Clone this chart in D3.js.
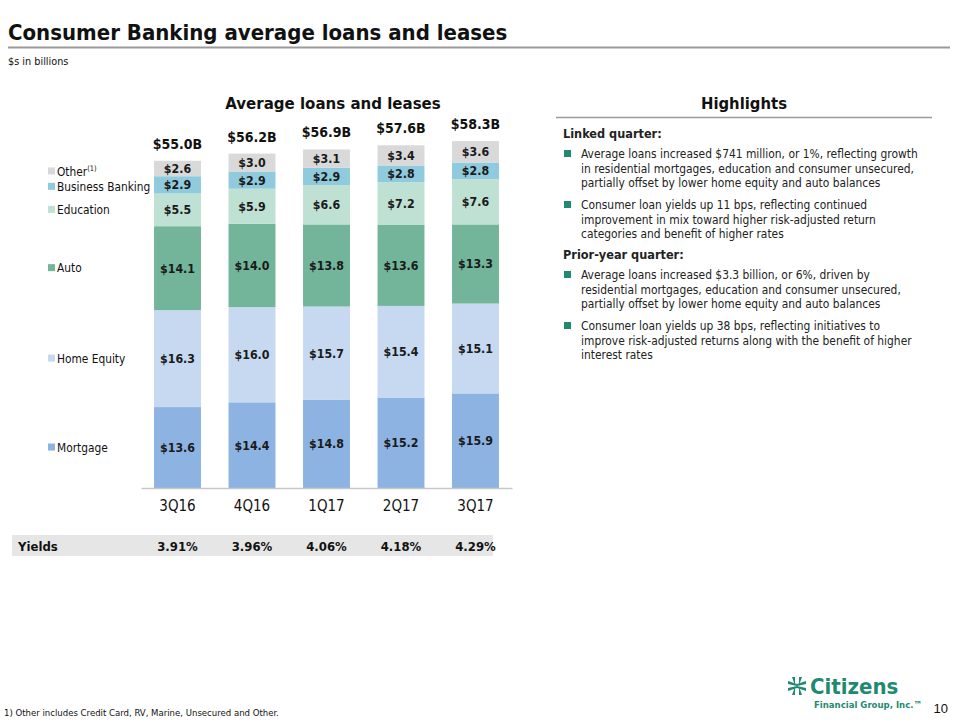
<!DOCTYPE html>
<html lang="en">
<head>
<meta charset="utf-8">
<title>Consumer Banking average loans and leases</title>
<style>
  body { margin: 0; background: #fff; }
  svg { font-family: "DejaVu Sans Condensed", "DejaVu Sans", sans-serif; font-stretch: condensed; }
  .seg-label { font-weight: bold; font-size: 12.3px; fill: #1a1a1a; }
  .total { font-weight: bold; font-size: 14px; fill: #111; }
  .legend text { font-size: 11.8px; fill: #111; }
  .hl text { font-size: 11.9px; fill: #222; }
</style>
<script src="https://d3js.org/d3.v7.min.js"></script>
</head>
<body>
<svg width="960" height="720"></svg>
<script>
// data
var quarters = ["3Q16", "4Q16", "1Q17", "2Q17", "3Q17"];
var series = ["Mortgage", "Home Equity", "Auto", "Education", "Business Banking", "Other"];
var mortgage = [13.6, 14.4, 14.8, 15.2, 15.9];
var homeEquity = [16.3, 16.0, 15.7, 15.4, 15.1];
var auto = [14.1, 14.0, 13.8, 13.6, 13.3];
var education = [5.5, 5.9, 6.6, 7.2, 7.6];
var businessBanking = [2.9, 2.9, 2.9, 2.8, 2.8];
var other = [2.6, 3.0, 3.1, 3.4, 3.6];
var totals = [55.0, 56.2, 56.9, 57.6, 58.3];
var yields = ["3.91%", "3.96%", "4.06%", "4.18%", "4.29%"];

var colors = ["#8db3e2", "#c6d9f1", "#72b59a", "#bfe1d3", "#8fcbdc", "#d9d9d9"];

var svg = d3.select("svg");

// header
svg.append("text").attr("x", 8).attr("y", 40)
    .style("font-size", "22px").style("font-weight", "bold").attr("fill", "#111")
    .text("Consumer Banking average loans and leases");
svg.append("line").attr("x1", 8).attr("x2", 950).attr("y1", 47.5).attr("y2", 47.5)
    .attr("stroke", "#9a9a9a").attr("stroke-width", 2);
svg.append("text").attr("x", 8).attr("y", 65)
    .style("font-size", "10.8px").attr("fill", "#111").text("$s in billions");

svg.append("text").attr("x", 333).attr("y", 109).attr("text-anchor", "middle")
    .style("font-size", "16.7px").style("font-weight", "bold").attr("fill", "#111")
    .text("Average loans and leases");

// scales
var x = d3.scaleBand().domain(quarters).range([141, 512])
    .paddingInner(0.37).paddingOuter(0.175);
var y = d3.scaleLinear().domain([0, 60]).range([488, 131]);

var rows = quarters.map(function(q, i) {
  return { q: q, Mortgage: mortgage[i], "Home Equity": homeEquity[i], Auto: auto[i],
    Education: education[i], "Business Banking": businessBanking[i], Other: other[i] };
});
var stacked = d3.stack().keys(series)(rows);

var layer = svg.append("g").selectAll("g")
  .data(stacked).enter().append("g")
    .attr("fill", function(d, i) { return colors[i]; });

layer.selectAll("rect")
  .data(function(d) { return d; })
  .enter().append("rect")
    .attr("x", function(d) { return x(d.data.q); })
    .attr("width", x.bandwidth())
    .attr("y", function(d) { return y(d[1]); })
    .attr("height", function(d) { return y(d[0]) - y(d[1]); });

layer.selectAll("text")
  .data(function(d) { return d.map(function(p) { p.key = d.key; return p; }); })
  .enter().append("text")
    .attr("class", "seg-label")
    .attr("x", function(d) { return x(d.data.q) + x.bandwidth() / 2; })
    .attr("y", function(d) { return (y(d[0]) + y(d[1])) / 2; })
    .attr("dy", "0.36em")
    .attr("text-anchor", "middle")
    .text(function(d) { return "$" + d.data[d.key].toFixed(1); });

// totals
svg.append("g").selectAll("text")
  .data(totals).enter().append("text")
    .attr("class", "total")
    .attr("x", function(d, i) { return x(quarters[i]) + x.bandwidth() / 2; })
    .attr("y", function(d) { return y(d) - 17; })
    .attr("dy", "0.36em")
    .attr("text-anchor", "middle")
    .text(function(d) { return "$" + d.toFixed(1) + "B"; });

// axis
var xAxis = svg.append("g").attr("transform", "translate(0,488)")
    .call(d3.axisBottom(x).tickSize(0).tickPadding(12));
xAxis.select(".domain").attr("stroke", "#c8c8c8").attr("stroke-width", 1.5);
xAxis.selectAll("text").style("font-size", "15px")
    .style("font-family", "DejaVu Sans Condensed, DejaVu Sans, sans-serif")
    .attr("fill", "#111");

// legend, aligned to first bar's segments
var first = stacked.map(function(s) { return (y(s[0][0]) + y(s[0][1])) / 2; });
first[5] += 3; first[4] += 2;
var legend = svg.append("g").attr("class", "legend").selectAll("g")
  .data(series).enter().append("g")
    .attr("transform", function(d, i) { return "translate(48," + first[i] + ")"; });
legend.append("rect").attr("x", 0).attr("y", -4).attr("width", 7).attr("height", 7)
    .attr("fill", function(d, i) { return colors[i]; });
legend.append("text").attr("x", 9).attr("dy", "0.36em")
    .text(function(d) { return d; })
  .filter(function(d) { return d === "Other"; })
  .append("tspan").attr("dy", "-5").style("font-size", "7.5px").text("(1)");

// yields row
svg.append("rect").attr("x", 12).attr("y", 535).attr("width", 481).attr("height", 21)
    .attr("fill", "#e6e6e6");
svg.append("text").attr("x", 18).attr("y", 546).attr("dy", "0.36em")
    .style("font-size", "13px").style("font-weight", "bold").attr("fill", "#111").text("Yields");
svg.append("g").selectAll("text")
  .data(yields).enter().append("text")
    .attr("x", function(d, i) { return x(quarters[i]) + x.bandwidth() / 2; })
    .attr("y", 546).attr("dy", "0.36em").attr("text-anchor", "middle")
    .style("font-size", "13px").style("font-weight", "bold").attr("fill", "#111")
    .text(function(d) { return d; });

// highlights
svg.append("text").attr("x", 744).attr("y", 109).attr("text-anchor", "middle")
    .style("font-size", "16.5px").style("font-weight", "bold").attr("fill", "#111")
    .text("Highlights");
svg.append("line").attr("x1", 556).attr("x2", 932).attr("y1", 117.5).attr("y2", 117.5)
    .attr("stroke", "#9a9a9a").attr("stroke-width", 1.5);

var hl = svg.append("g").attr("class", "hl");
var items = [
  { head: "Linked quarter:", y: 138 },
  { lines: ["Average loans increased $741 million, or 1%, reflecting growth",
            "in residential mortgages, education and consumer unsecured,",
            "partially offset by lower home equity and auto balances"], y: 158 },
  { lines: ["Consumer loan yields up 11 bps, reflecting continued",
            "improvement in mix toward higher risk-adjusted return",
            "categories and benefit of higher rates"], y: 209 },
  { head: "Prior-year quarter:", y: 259 },
  { lines: ["Average loans increased $3.3 billion, or 6%, driven by",
            "residential mortgages, education and consumer unsecured,",
            "partially offset by lower home equity and auto balances"], y: 279 },
  { lines: ["Consumer loan yields up 38 bps, reflecting initiatives to",
            "improve risk-adjusted returns along with the benefit of higher",
            "interest rates"], y: 330 }
];
items.forEach(function(it) {
  if (it.head) {
    hl.append("text").attr("x", 563).attr("y", it.y)
      .style("font-size", "12.6px").style("font-weight", "bold").attr("fill", "#111").text(it.head);
  } else {
    hl.append("rect").attr("x", 564).attr("y", it.y - 8).attr("width", 7).attr("height", 7)
      .attr("fill", "#1f8a70");
    it.lines.forEach(function(l, j) {
      hl.append("text").attr("x", 581).attr("y", it.y + j * 14.6).text(l);
    });
  }
});

// footnote, page number
svg.append("text").attr("x", 4).attr("y", 716).style("font-size", "9.5px").attr("fill", "#111")
    .text("1) Other includes Credit Card, RV, Marine, Unsecured and Other.");
svg.append("text").attr("x", 948).attr("y", 713).attr("text-anchor", "end")
    .style("font-size", "13px").style("font-family", "Liberation Sans, Arial, sans-serif")
    .attr("fill", "#111").text("10");

// logo
var logo = svg.append("g").attr("transform", "translate(797,686)").attr("fill", "#1f8a70");
[[-1, -1], [1, -1], [-1, 1], [1, 1]].forEach(function(s) {
  logo.append("path")
    .attr("d", "M0,0 L" + (s[0] * 9) + "," + (s[1] * 2) + " L" + (s[0] * 9) + "," + (s[1] * 5) +
      " L0," + (s[1] * 2) + " Z");
  logo.append("path")
    .attr("d", "M" + (s[0] * 2) + "," + (s[1] * 0.5) + " L" + (s[0] * 5) + "," + (s[1] * 9) +
      " L" + (s[0] * 2) + "," + (s[1] * 9) + " Z");
});
svg.append("text").attr("x", 810).attr("y", 694)
    .style("font-size", "22px").style("font-weight", "bold").attr("fill", "#1f8a70").text("Citizens");
svg.append("text").attr("x", 814).attr("y", 708)
    .style("font-size", "9.5px").style("font-weight", "bold").attr("fill", "#1f8a70")
    .text("Financial Group, Inc.\u2122");
</script>
</body>
</html>
